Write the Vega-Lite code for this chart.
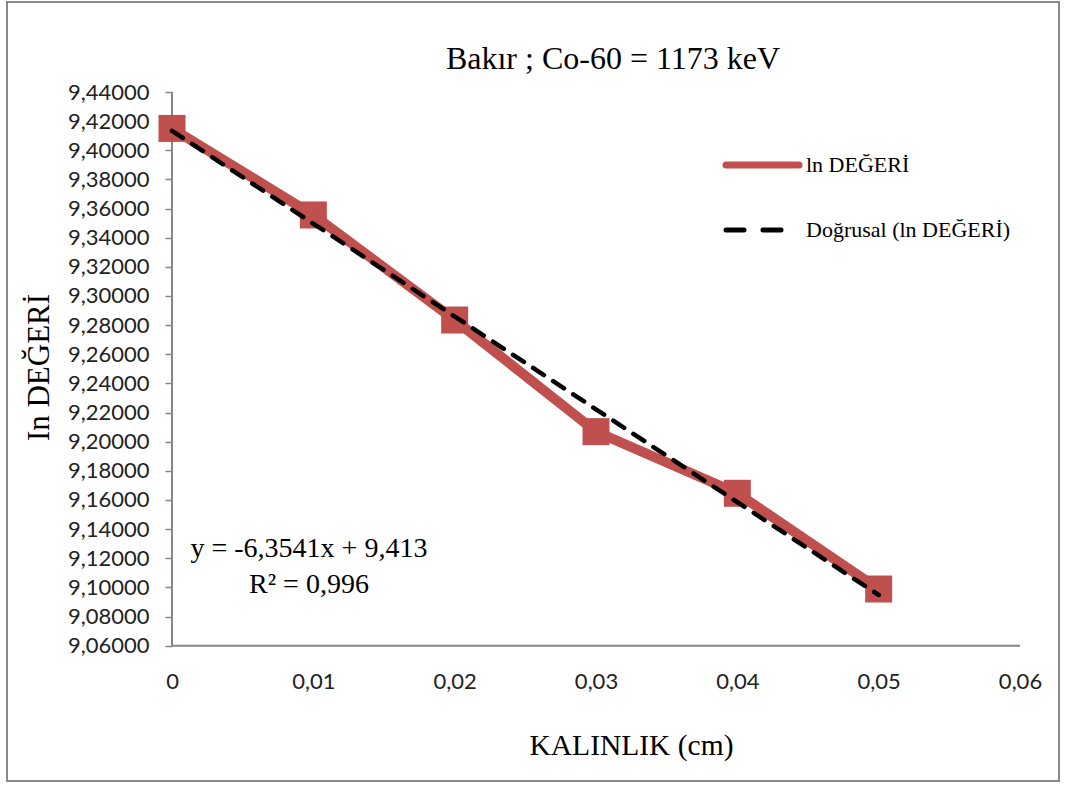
{
  "$schema": "https://vega.github.io/schema/vega-lite/v6.json",
  "autosize": {"type": "none"},
  "padding": {"left": 7, "top": 2, "right": 16, "bottom": 4},
  "width": 1052,
  "height": 779,
  "background": "white",
  "config": {
    "view": {"stroke": "#898989", "strokeWidth": 2},
    "axis": {"grid": false}
  },
  "title": {
    "text": "Bakır ; Co-60 = 1173 keV",
    "font": "Liberation Serif",
    "fontSize": 32,
    "fontWeight": "normal",
    "color": "black",
    "anchor": "middle",
    "frame": "group",
    "baseline": "alphabetic",
    "offset": 0,
    "dx": 80,
    "dy": 99
  },
  "data": {
    "values": [
      {"kalinlik": 0.00, "ln": 9.4150},
      {"kalinlik": 0.01, "ln": 9.3556},
      {"kalinlik": 0.02, "ln": 9.2835},
      {"kalinlik": 0.03, "ln": 9.2069},
      {"kalinlik": 0.04, "ln": 9.1646},
      {"kalinlik": 0.05, "ln": 9.0989}
    ]
  },
  "layer": [
    {
      "data": {"values": [{}]},
      "mark": {"type": "rule", "color": "#868686", "strokeWidth": 2},
      "encoding": {
        "x": {"datum": 0, "type": "quantitative"},
        "y": {"datum": 9.06, "type": "quantitative"},
        "y2": {"datum": 9.44}
      }
    },
    {
      "data": {"values": [{}]},
      "mark": {"type": "rule", "color": "#868686", "strokeWidth": 2},
      "encoding": {
        "y": {"datum": 9.06, "type": "quantitative"},
        "x": {"datum": 0, "type": "quantitative"},
        "x2": {"datum": 0.06}
      }
    },
    {
      "mark": {"type": "line", "strokeWidth": 10, "strokeJoin": "round", "strokeCap": "round"},
      "encoding": {
        "x": {
          "field": "kalinlik", "type": "quantitative",
          "scale": {"domain": [-0.011675, 0.062759], "nice": false, "zero": false},
          "axis": {
            "orient": "bottom",
            "offset": -135.3,
            "values": [0, 0.01, 0.02, 0.03, 0.04, 0.05, 0.06],
            "labelExpr": "datum.value == 0 ? '0' : replace(format(datum.value, '.2f'), '.', ',')",
            "labelFont": "Lato",
            "labelFontSize": 22,
            "labelColor": "#222222",
            "labelPadding": 26,
            "ticks": false,
            "domain": false,
            "title": "KALINLIK (cm)",
            "titleFont": "Liberation Serif",
            "titleFontSize": 29.5,
            "titleFontWeight": "normal",
            "titleColor": "black",
            "titleX": 624,
            "titleY": 109,
            "titleAlign": "center",
            "titleBaseline": "alphabetic"
          }
        },
        "y": {
          "field": "ln", "type": "quantitative",
          "scale": {"domain": [8.96714, 9.50177], "nice": false, "zero": false},
          "axis": {
            "orient": "left",
            "offset": -165,
            "values": [9.06, 9.08, 9.10, 9.12, 9.14, 9.16, 9.18, 9.20, 9.22, 9.24, 9.26, 9.28, 9.30, 9.32, 9.34, 9.36, 9.38, 9.40, 9.42, 9.44],
            "labelExpr": "replace(format(datum.value, '.5f'), '.', ',')",
            "labelFont": "Lato",
            "labelFontSize": 22,
            "labelColor": "#222222",
            "labelPadding": 16,
            "tickSize": 7,
            "tickColor": "#868686",
            "tickWidth": 1.5,
            "domain": false,
            "title": "In DEĞERİ",
            "titleFont": "Liberation Serif",
            "titleFontSize": 31,
            "titleFontWeight": "normal",
            "titleColor": "black",
            "titleAngle": -90,
            "titleX": -133,
            "titleY": 365,
            "titleAlign": "center",
            "titleBaseline": "middle"
          }
        },
        "color": {
          "datum": "ln DEĞERİ",
          "type": "nominal",
          "scale": {"domain": ["ln DEĞERİ", "Doğrusal (ln DEĞERİ)"], "range": ["#C0504D", "#000000"]},
          "legend": {
            "orient": "none",
            "legendX": 744.5,
            "legendY": 152,
            "title": null,
            "padding": 0,
            "symbolType": "stroke",
            "symbolSize": 5329,
            "symbolStrokeWidth": 7,
            "labelFont": "Liberation Serif",
            "labelFontSize": 22,
            "labelColor": "black",
            "labelOffset": 32.5,
            "labelLimit": 400,
            "rowPadding": 40,
            "encode": {
              "symbols": {
                "update": {
                  "strokeDash": {"signal": "datum.value === 'ln DEĞERİ' ? [1, 0] : [18, 19]"},
                  "strokeWidth": {"signal": "datum.value === 'ln DEĞERİ' ? 7 : 5"},
                  "strokeCap": {"value": "round"}
                }
              }
            }
          }
        }
      }
    },
    {
      "mark": {"type": "point", "shape": "square", "filled": true, "size": 729, "color": "#C0504D", "opacity": 1},
      "encoding": {
        "x": {"field": "kalinlik", "type": "quantitative"},
        "y": {"field": "ln", "type": "quantitative"}
      }
    },
    {
      "transform": [{"regression": "ln", "on": "kalinlik", "method": "linear"}],
      "mark": {"type": "line", "strokeWidth": 4.5, "strokeDash": [13, 11], "strokeCap": "round"},
      "encoding": {
        "x": {"field": "kalinlik", "type": "quantitative"},
        "y": {"field": "ln", "type": "quantitative"},
        "color": {"datum": "Doğrusal (ln DEĞERİ)", "type": "nominal"}
      }
    },
    {
      "data": {"values": [{}]},
      "mark": {"type": "text", "font": "Liberation Serif", "fontSize": 28, "align": "center", "baseline": "alphabetic", "lineHeight": 36, "color": "black"},
      "encoding": {
        "x": {"datum": 0.00969, "type": "quantitative"},
        "y": {"datum": 9.1209, "type": "quantitative"},
        "text": {"value": ["y = -6,3541x + 9,413", "R² = 0,996"]}
      }
    }
  ]
}
